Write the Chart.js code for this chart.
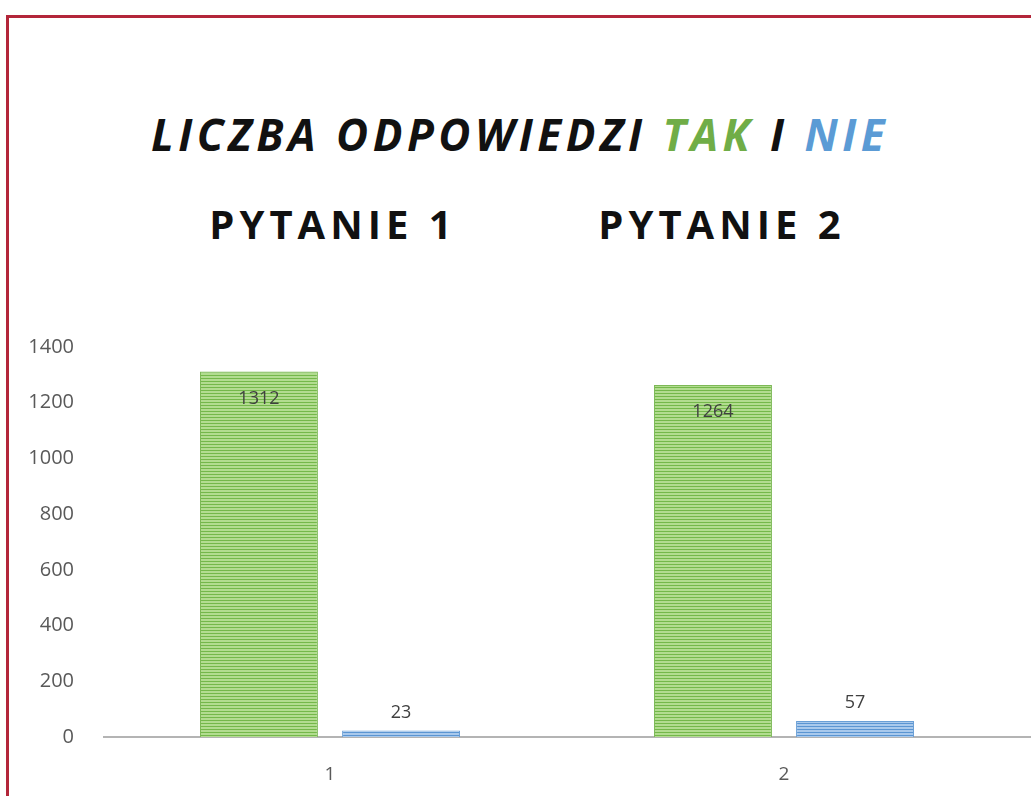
<!DOCTYPE html>
<html lang="pl">
<head>
<meta charset="utf-8">
<title>Liczba odpowiedzi TAK i NIE</title>
<script src="https://cdn.jsdelivr.net/npm/chart.js@4.4.1/dist/chart.umd.min.js"></script>
<style>
  html, body { margin: 0; padding: 0; background: #fff; }
  body { width: 1031px; height: 796px; position: relative; overflow: hidden; font-family: "Open Sans", "DejaVu Sans", sans-serif; }
  #frame { position: absolute; left: 6px; top: 15px; width: 1040px; height: 800px;
           border-top: 3px solid #b3263a; border-left: 3px solid #b3263a; }
  #wykres { position: absolute; left: 0; top: 0; }
  .tytul { position: absolute; left: 0; width: 1040px; top: 104px; text-align: center;
           font-size: 44px; font-weight: 700; font-style: italic; letter-spacing: 4.5px; color: #111; }
  .tak { color: #70ad47; }
  .nie { color: #5b9bd5; }
  .pytanie { position: absolute; top: 196px; width: 400px; text-align: center;
             font-size: 40px; font-weight: 700; letter-spacing: 5px; color: #111; }
</style>
</head>
<body>
<div id="frame"></div>
<div class="tytul">LICZBA ODPOWIEDZI <span class="tak">TAK</span> I <span class="nie">NIE</span></div>
<div class="pytanie" style="left:133px">PYTANIE 1</div>
<div class="pytanie" style="left:522px">PYTANIE 2</div>
<canvas id="wykres" width="1031" height="796"></canvas>
<script>
// --- dane ---
const pytania = ['1', '2'];
const odpTak = [1312, 1264];
const odpNie = [23, 57];
const yTicks = [0, 200, 400, 600, 800, 1000, 1200, 1400];

// paski poziome jak w Excelu
function paski(jasny, ciemny) {
    const c = document.createElement('canvas');
    c.width = 4; c.height = 3;
    const g = c.getContext('2d');
    g.fillStyle = jasny;
    g.fillRect(0, 0, 4, 3);
    g.fillStyle = ciemny;
    g.fillRect(0, 0, 4, 1);
    return g.createPattern(c, 'repeat');
}

const ctx = document.getElementById('wykres').getContext('2d');

// etykiety danych: TAK w srodku przy koncu, NIE nad slupkiem
const etykiety = {
    id: 'etykiety',
    afterDatasetsDraw(chart) {
        const c = chart.ctx;
        c.save();
        c.font = '18px "Open Sans", sans-serif';
        c.fillStyle = '#404040';
        c.textAlign = 'center';
        c.textBaseline = 'middle';
        chart.data.datasets.forEach((ds, i) => {
            chart.getDatasetMeta(i).data.forEach((bar, j) => {
                const y = i === 0 ? bar.y + 27 : bar.y - 18;
                c.fillText(String(ds.data[j]), bar.x, y);
            });
        });
        c.restore();
    }
};

// linia bazowa do prawej krawedzi
const linia = {
    id: 'linia',
    beforeDatasetsDraw(chart) {
        const y = chart.scales.y.getPixelForValue(0);
        const c = chart.ctx;
        c.save();
        c.strokeStyle = '#b4b4b4';
        c.lineWidth = 2;
        c.beginPath();
        c.moveTo(chart.chartArea.left, y);
        c.lineTo(chart.width, y);
        c.stroke();
        c.restore();
    }
};

new Chart(ctx, {
    type: 'bar',
    data: {
        labels: pytania,
        datasets: [
            {
                label: 'TAK',
                data: odpTak,
                backgroundColor: paski('#b2dc90', '#74b84a'),
                borderColor: '#7cb856',
                borderWidth: 1
            },
            {
                label: 'NIE',
                data: odpNie,
                backgroundColor: paski('#a9c9ec', '#5b95d2'),
                borderColor: '#6a9fd6',
                borderWidth: 1
            }
        ]
    },
    options: {
        responsive: false,
        animation: false,
        categoryPercentage: 0.626,
        barPercentage: 0.83,
        layout: { padding: { top: 347, right: 20, bottom: 0, left: 0 } },
        plugins: {
            legend: { display: false },
            title: { display: false },
            tooltip: { enabled: false }
        },
        scales: {
            x: {
                afterFit: s => { s.height = 59; },
                grid: { display: false },
                border: { display: false },
                ticks: { color: '#595959', font: { family: 'Open Sans', size: 19 }, padding: 18 }
            },
            y: {
                min: 0,
                max: 1400,
                afterBuildTicks: s => { s.ticks = yTicks.map(v => ({ value: v })); },
                afterFit: s => { s.width = 103; },
                grid: { display: false },
                border: { display: false },
                ticks: {
                    color: '#595959',
                    font: { family: 'Open Sans', size: 20 },
                    padding: 21,
                    callback: v => String(v)
                }
            }
        }
    },
    plugins: [linia, etykiety]
});
</script>
</body>
</html>
